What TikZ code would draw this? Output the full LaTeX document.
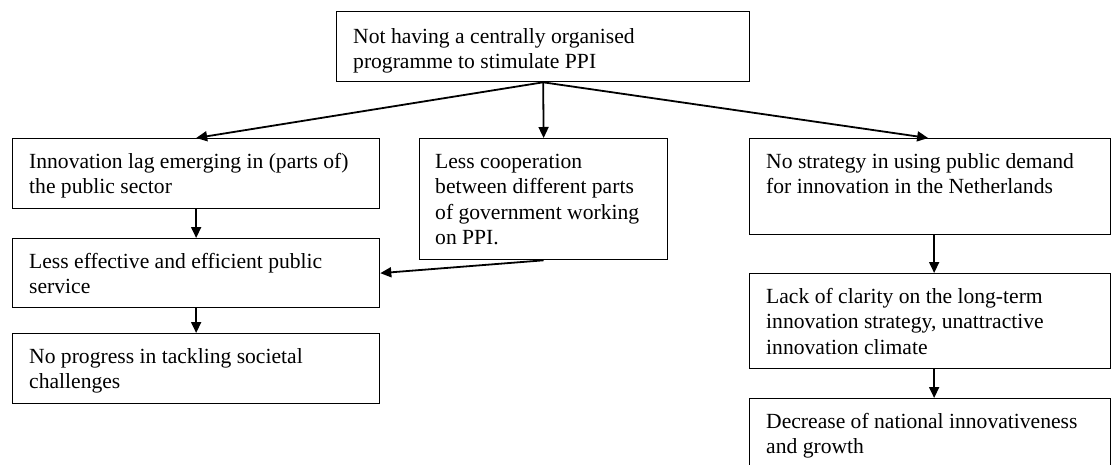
\documentclass[tikz,border=0pt]{standalone}
\usepackage{fontspec}
\setmainfont{Liberation Serif}
\usetikzlibrary{arrows.meta}
\begin{document}
\begin{tikzpicture}[x=1pt,y=-1pt,
  box/.style={draw=black,line width=1.3pt,rectangle,inner sep=0pt,anchor=north west},
  label/.style={anchor=base west,inner sep=0pt,align=left,
    font=\fontsize{21.6}{25.5}\selectfont},
  link/.style={line width=1.8pt,-{Triangle[length=11pt,width=10pt]}}]
\useasboundingbox (0,0) rectangle (1112,464);
\clip (0,0) rectangle (1112,464);
% boxes: top-left corner, size
\node[box,minimum width=413pt,minimum height=70pt] (top) at (336,11) {};
\node[box,minimum width=367pt,minimum height=70pt] (lag) at (12,138) {};
\node[box,minimum width=248pt,minimum height=121pt] (coop) at (419,138) {};
\node[box,minimum width=361pt,minimum height=96pt] (strat) at (749,138) {};
\node[box,minimum width=367pt,minimum height=69pt] (serv) at (12,238) {};
\node[box,minimum width=367pt,minimum height=70pt] (prog) at (12,333) {};
\node[box,minimum width=361pt,minimum height=95pt] (clar) at (749,273) {};
\node[box,minimum width=361pt,minimum height=75pt] (decr) at (749,398) {};
% texts (anchored on the baseline of their last line)
\node[label] (ttop) at ([shift={(17,57.5)}]top.north west) {Not having a centrally organised\\programme to stimulate PPI};
\node[label] (tlag) at ([shift={(17,55.5)}]lag.north west) {Innovation lag emerging in (parts of)\\the public sector};
\node[label] (tcoop) at ([shift={(16,106.5)}]coop.north west) {Less cooperation\\between different parts\\of government working\\on PPI.};
\node[label] (tstrat) at ([shift={(17,55.5)}]strat.north west) {No strategy in using public demand\\for innovation in the Netherlands};
\node[label] (tserv) at ([shift={(17,55.5)}]serv.north west) {Less effective and efficient public\\service};
\node[label] (tprog) at ([shift={(17,55.5)}]prog.north west) {No progress in tackling societal\\challenges};
\node[label] (tclar) at ([shift={(17,81)}]clar.north west) {Lack of clarity on the long-term\\innovation strategy, unattractive\\innovation climate};
\node[label] (tdecr) at ([shift={(17,55.5)}]decr.north west) {Decrease of national innovativeness\\and growth};
% connectors
\draw[link] (top.south) -- (lag.north);
\draw[link] (top.south) -- (coop.north);
\draw[link] (top.south) -- ([xshift=-2pt]strat.north);
\draw[link] (lag.south) -- (serv.north);
\draw[link] (coop.south) -- (serv.east);
\draw[link] (serv.south) -- (prog.north);
\draw[link] ([xshift=4pt]strat.south) -- ([xshift=4pt]clar.north);
\draw[link] ([xshift=4pt]clar.south) -- ([xshift=4pt]decr.north);
\end{tikzpicture}
\end{document}
